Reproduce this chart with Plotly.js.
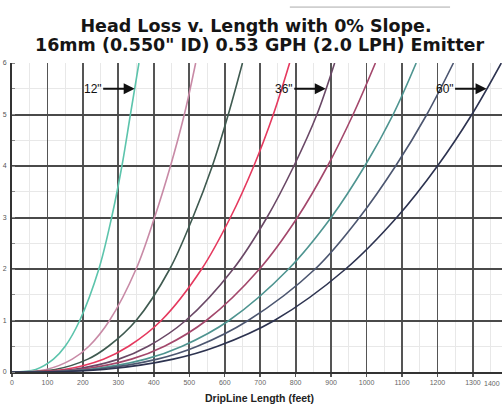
<!DOCTYPE html>
<html>
<head>
<meta charset="utf-8">
<script src="https://cdn.plot.ly/plotly-3.0.1.min.js"></script>
<style>html,body{margin:0;padding:0;background:#fff;}#chart{width:502px;height:404px;}</style>
</head>
<body>
<div id="chart"></div>
<script>
// Head loss levels (y) at which each curve's length was read
const headLevels = [0, 0.05, 0.25, 0.5, 1, 2, 3, 4, 5, 6];
// DripLine length (feet) reaching each head level, by emitter spacing
const spacing12 = [0, 67, 117, 150, 191, 245, 281, 310, 334, 358];
const spacing18 = [0, 97, 170, 217, 275, 350, 402, 447, 486, 518];
const spacing24 = [0, 122, 214, 272, 350, 445, 510, 565, 610, 650];
const spacing30 = [0, 147, 258, 329, 421, 535, 616, 682, 737, 783];
const spacing36 = [0, 172, 301, 384, 490, 624, 719, 795, 860, 910];
const spacing42 = [0, 192, 337, 430, 548, 698, 805, 890, 962, 1025];
const spacing48 = [0, 215, 377, 480, 612, 780, 900, 995, 1075, 1140];
const spacing54 = [0, 233, 410, 523, 666, 855, 980, 1082, 1170, 1245];
const spacing60 = [0, 259, 455, 580, 740, 941, 1085, 1200, 1297, 1380];

const seriesNames = ['12"', '18"', '24"', '30"', '36"', '42"', '48"', '54"', '60"'];
const seriesData = [spacing12, spacing18, spacing24, spacing30, spacing36, spacing42, spacing48, spacing54, spacing60];
const seriesColors = ['#5cc4ac', '#c88aa6', '#3f5a50', '#e5395e', '#6a4866', '#a3476b', '#4e9490', '#4c5670', '#2d3350'];

const lengthTicks = [0, 100, 200, 300, 400, 500, 600, 700, 800, 900, 1000, 1100, 1200, 1300, 1400];
const lengthTickText = ['0', '100', '200', '300', '400', '500', '600', '700', '800', '900', '1000', '1100', '1200', '1300', '1400'];
const headTicks = [0, 1, 2, 3, 4, 5, 6];

const titleLine1 = 'Head Loss v. Length with 0% Slope.';
const titleLine2 = '16mm (0.550" ID) 0.53 GPH (2.0 LPH) Emitter';
const xTitle = 'DripLine Length (feet)';

// labelled curves (index into series) and the head level where their arrow lands
const labelled = [0, 4, 8];
const arrowHead = 5.5;

function lengthAt(arr, h) {
  for (let i = 1; i < headLevels.length; i++) {
    if (h <= headLevels[i]) {
      const f = (h - headLevels[i-1]) / (headLevels[i] - headLevels[i-1]);
      return arr[i-1] + f * (arr[i] - arr[i-1]);
    }
  }
  return arr[arr.length - 1];
}

const traces = seriesData.map((arr, i) => ({
  type: 'scatter', mode: 'lines', name: seriesNames[i],
  x: arr, y: headLevels,
  line: {color: seriesColors[i], width: 1.6, shape: 'spline', smoothing: 1},
  hoverinfo: 'skip'
}));

const FONT = 'Liberation Sans, Arial, sans-serif';
const TFONT = 'DejaVu Sans, Liberation Sans, Arial, sans-serif';

const annotations = labelled.map(i => ({
  x: lengthAt(seriesData[i], arrowHead), y: arrowHead, xref: 'x', yref: 'y',
  text: seriesNames[i], showarrow: true, ax: -42, ay: 0,
  arrowhead: 2, arrowsize: 1, arrowwidth: 2.2, arrowcolor: '#111', standoff: 0,
  font: {family: FONT, size: 12, color: '#111'}
}));
annotations.push({
  xref: 'paper', yref: 'paper', x: 0.506, y: (372 - 45) / 309, xanchor: 'center', yanchor: 'middle',
  text: '<b>' + titleLine2 + '</b>', showarrow: false,
  font: {family: TFONT, size: 17.5, color: '#151515'}
});
annotations.push({
  xref: 'paper', yref: 'paper', x: 0.506, y: -0.085, xanchor: 'center', yanchor: 'middle',
  text: '<b>' + xTitle + '</b>', showarrow: false,
  font: {family: FONT, size: 10.5, color: '#222'}
});
annotations.push({
  xref: 'paper', yref: 'paper', x: 1.0, y: -0.036, xanchor: 'right', yanchor: 'middle',
  text: lengthTickText[14], showarrow: false,
  font: {family: FONT, size: 7, color: '#666'}
});

const layout = {
  width: 502, height: 404,
  margin: {l: 12, r: 0, t: 63, b: 32, pad: 0},
  paper_bgcolor: '#ffffff', plot_bgcolor: '#ffffff',
  showlegend: false,
  title: {
    text: '<b>' + titleLine1 + '</b>',
    font: {family: TFONT, size: 17.5, color: '#151515'},
    x: 0.51, xanchor: 'center', xref: 'container',
    y: 1 - 26 / 404, yanchor: 'middle', yref: 'container'
  },
  xaxis: {
    range: [0, 1382], tickvals: lengthTicks.slice(0, 14), ticktext: lengthTickText.slice(0, 14),
    tickfont: {family: FONT, size: 7, color: '#666'},
    ticks: 'outside', ticklen: 3, tickcolor: '#555', tickwidth: 1.5,
    showgrid: true, gridcolor: '#555555', gridwidth: 1.8,
    showline: true, linecolor: '#333', linewidth: 2, zeroline: false,
    minor: {dtick: 50, showgrid: true, gridcolor: '#e8e8e8', gridwidth: 1},
    fixedrange: true
  },
  yaxis: {
    range: [0, 6], tickvals: headTicks,
    tickfont: {family: FONT, size: 7, color: '#555'},
    ticks: 'outside', ticklen: 2, tickcolor: 'rgba(0,0,0,0)',
    showgrid: true, gridcolor: '#4a4a4a', gridwidth: 2,
    showline: true, linecolor: '#333', linewidth: 2, zeroline: false,
    minor: {dtick: 0.5, showgrid: true, gridcolor: '#e8e8e8', gridwidth: 1, ticks: 'inside', ticklen: 3, tickcolor: '#888'},
    fixedrange: true
  },
  shapes: [
    {type: 'line', xref: 'paper', yref: 'paper', x0: 0.567, x1: 0.894, y0: 1.181, y1: 1.181,
     line: {color: '#aaaaaa', width: 1}}
  ],
  annotations: annotations
};

Plotly.newPlot('chart', traces, layout, {staticPlot: true, displayModeBar: false});
</script>
</body>
</html>
